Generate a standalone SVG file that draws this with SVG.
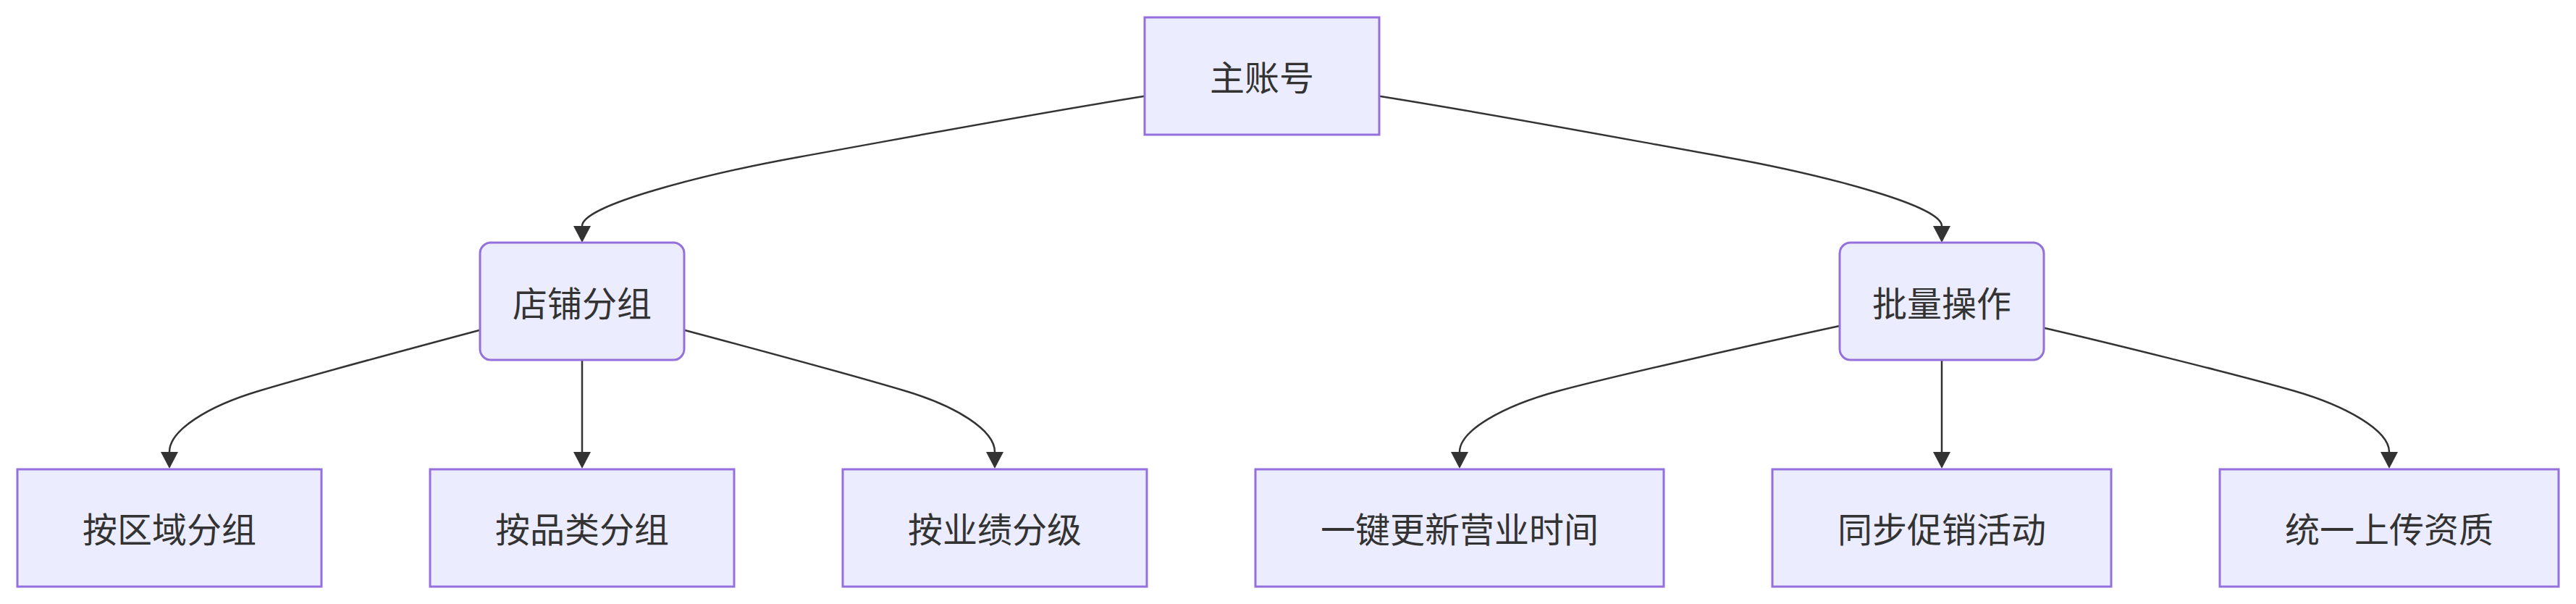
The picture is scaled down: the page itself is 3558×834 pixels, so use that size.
<svg xmlns="http://www.w3.org/2000/svg" width="3558" height="834" viewBox="0 0 3558 834">
<style>
.node rect{fill:#ECECFF;stroke:#9370DB;stroke-width:3;}
.node text{font-family:"Noto Sans CJK SC","Noto Sans",sans-serif;font-size:48px;fill:#333333;text-anchor:middle;dominant-baseline:central;}
.edge{fill:none;stroke:#333333;stroke-width:2.5;marker-end:url(#arrow);}
</style>
<defs>
<marker id="arrow" viewBox="0 0 23 24" refX="0" refY="12" markerWidth="23" markerHeight="24" markerUnits="userSpaceOnUse" orient="auto">
<path d="M0,0 L23,12 L0,24 z" fill="#333333"/>
</marker>
</defs>
<rect width="3558" height="834" fill="#ffffff"/>
<g id="edges">
<path class="edge" d="M1581,132.7 C1420,158.3 1264,187.9 1104,216.7 C984,238.3 804,282 804,312"/>
<path class="edge" d="M1905,132.7 C2066,158.3 2222,187.9 2382,216.7 C2502,238.3 2682,282 2682,312"/>
<path class="edge" d="M663,455.7 C582,477.3 427,519 357,540 C287,561 234,594 234,624"/>
<path class="edge" d="M804,497 L804,624"/>
<path class="edge" d="M945,455.7 C1026,477.3 1181,519 1251,540 C1321,561 1374,594 1374,624"/>
<path class="edge" d="M2541,450 C2451,469.4 2232,518.4 2152,540 C2077,560.3 2016,594 2016,624"/>
<path class="edge" d="M2682,497 L2682,624"/>
<path class="edge" d="M2823,452.7 C2903,471.1 3094.5,518.25 3169.5,540 C3239.5,560.3 3300,594 3300,624"/>
</g>
<g id="root" class="node"><rect x="1581" y="24" width="324" height="162"/><text x="1743" y="104">主账号</text></g>
<g id="store-group" class="node"><rect x="663" y="335" width="282" height="162" rx="15" ry="15"/><text x="804" y="416">店铺分组</text></g>
<g id="batch-ops" class="node"><rect x="2541" y="335" width="282" height="162" rx="15" ry="15"/><text x="2682" y="416">批量操作</text></g>
<g id="by-region" class="node"><rect x="24" y="648" width="420" height="162"/><text x="234" y="728">按区域分组</text></g>
<g id="by-category" class="node"><rect x="594" y="648" width="420" height="162"/><text x="804" y="728">按品类分组</text></g>
<g id="by-performance" class="node"><rect x="1164" y="648" width="420" height="162"/><text x="1374" y="728">按业绩分级</text></g>
<g id="update-hours" class="node"><rect x="1734" y="648" width="564" height="162"/><text x="2016" y="728">一键更新营业时间</text></g>
<g id="sync-promo" class="node"><rect x="2448" y="648" width="468" height="162"/><text x="2682" y="728">同步促销活动</text></g>
<g id="upload-cert" class="node"><rect x="3066" y="648" width="468" height="162"/><text x="3300" y="728">统一上传资质</text></g>
</svg>
